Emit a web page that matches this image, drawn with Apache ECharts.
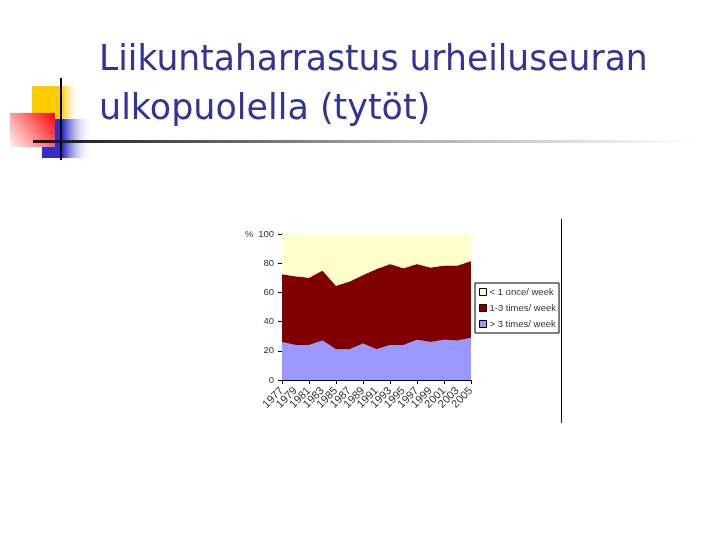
<!DOCTYPE html>
<html>
<head>
<meta charset="utf-8">
<script src="https://cdn.jsdelivr.net/npm/echarts@6/dist/echarts.min.js"></script>
<style>
  html, body { margin: 0; padding: 0; background: #fff; }
  #chart { width: 720px; height: 540px; }
</style>
</head>
<body>
<div id="chart"></div>
<script>
// vuodet
const years = ['1977', '1979', '1981', '1983', '1985', '1987', '1989', '1991',
  '1993', '1995', '1997', '1999', '2001', '2003', '2005']
// > 3 kertaa viikossa
const moreThan3 = [26, 24, 24, 27, 21, 21, 25, 21, 24, 24, 27.5, 26, 27.5, 27, 29]
// 1-3 kertaa viikossa
const oneToThree = [46.5, 47, 46, 48, 43.5, 46.5, 47, 55, 55.5, 52.5, 52, 51, 51, 51.5, 52.5]
// alle kerran viikossa
const lessThan1 = [27.5, 29, 30, 25, 35.5, 32.5, 28, 24, 20.5, 23.5, 20.5, 23, 21.5, 21.5, 18.5]
const yTicks = [0, 20, 40, 60, 80, 100]

const legendNames = ['< 1 once/ week', '1-3 times/ week', '> 3 times/ week']
const titleLines = ['Liikuntaharrastus urheiluseuran', 'ulkopuolella (tytöt)']

const chart = echarts.init(document.getElementById('chart'))

const fade = (c, solid) => new echarts.graphic.LinearGradient(0, 0, 1, 0, [
  { offset: 0, color: c },
  { offset: solid, color: c },
  { offset: 1, color: 'rgba(255,255,255,0)' }
])

const option = {
  backgroundColor: '#fff',
  animation: false,
  textStyle: { fontFamily: 'Liberation Sans, Arial, sans-serif' },
  grid: { left: 282, right: 249, top: 234, bottom: 160 },
  legend: {
    data: legendNames,
    orient: 'vertical',
    left: 475,
    top: 283,
    itemWidth: 7,
    itemHeight: 7,
    itemGap: 6,
    icon: 'rect',
    padding: [4, 3, 4, 4],
    borderColor: '#000',
    borderWidth: 1,
    textStyle: { fontSize: 9.5, color: '#333', padding: [0, 0, 0, -2] },
    itemStyle: { borderColor: '#000', borderWidth: 1 }
  },
  xAxis: {
    type: 'category',
    data: years,
    boundaryGap: false,
    axisLine: { lineStyle: { color: '#000', width: 1 } },
    axisTick: { interval: 1, length: 4, lineStyle: { color: '#000' } },
    axisLabel: { interval: 0, rotate: 45, fontSize: 11, color: '#333', margin: 9 },
    splitLine: { show: false }
  },
  yAxis: {
    type: 'value',
    min: yTicks[0],
    max: yTicks[yTicks.length - 1],
    interval: 20,
    axisLine: { show: true, lineStyle: { color: '#000', width: 1 } },
    axisTick: { show: true, length: 4, lineStyle: { color: '#000' } },
    axisLabel: { fontSize: 9.5, color: '#333', margin: 8 },
    splitLine: { show: false }
  },
  series: [
    {
      name: legendNames[2], type: 'line', stack: 'total', data: moreThan3,
      symbol: 'none', lineStyle: { width: 0 },
      areaStyle: { color: '#9999ff', opacity: 1 }, itemStyle: { color: '#9999ff' }
    },
    {
      name: legendNames[1], type: 'line', stack: 'total', data: oneToThree,
      symbol: 'none', lineStyle: { width: 0 },
      areaStyle: { color: '#800000', opacity: 1 }, itemStyle: { color: '#800000' }
    },
    {
      name: legendNames[0], type: 'line', stack: 'total', data: lessThan1,
      symbol: 'none', lineStyle: { width: 0 },
      areaStyle: { color: '#ffffcc', opacity: 1 }, itemStyle: { color: '#ffffcc' }
    }
  ],
  graphic: [
    // koristeneliöt
    { type: 'rect', shape: { x: 32, y: 86, width: 48, height: 33 }, style: { fill: fade('#ffcc00', 0.62) } },
    { type: 'rect', shape: { x: 42, y: 119, width: 50, height: 39 }, style: { fill: fade('#3030c8', 0.42) } },
    {
      type: 'rect', shape: { x: 10, y: 113, width: 45, height: 34 },
      style: {
        fill: new echarts.graphic.LinearGradient(0, 1, 1, 0, [
          { offset: 0, color: '#fff4f4' },
          { offset: 0.5, color: '#ff8080' },
          { offset: 1, color: '#ff0000' }
        ])
      }
    },
    {
      type: 'rect', shape: { x: 33, y: 140, width: 660, height: 3 },
      style: {
        fill: new echarts.graphic.LinearGradient(0, 0, 1, 0, [
          { offset: 0, color: '#111' },
          { offset: 0.12, color: '#333' },
          { offset: 0.55, color: '#aaa' },
          { offset: 1, color: '#fff' }
        ])
      }
    },
    { type: 'rect', shape: { x: 60, y: 78, width: 2, height: 82 }, style: { fill: '#000' } },
    // otsikko
    {
      type: 'text', x: 99, y: 61, scaleX: 0.96,
      style: { text: titleLines[0], fontFamily: 'DejaVu Sans', fontSize: 36, fill: '#333399', verticalAlign: 'middle' }
    },
    {
      type: 'text', x: 99, y: 110, scaleX: 0.97,
      style: { text: titleLines[1], fontFamily: 'DejaVu Sans', fontSize: 36, fill: '#333399', verticalAlign: 'middle' }
    },
    // %-merkki ja kuvan reunaviiva
    { type: 'text', x: 245, y: 234, style: { text: '%', fontSize: 9.5, fill: '#333', verticalAlign: 'middle', fontFamily: 'Liberation Sans' } },
    { type: 'rect', shape: { x: 561, y: 219, width: 1, height: 204 }, style: { fill: '#000' } }
  ]
}

chart.setOption(option)
</script>
</body>
</html>
